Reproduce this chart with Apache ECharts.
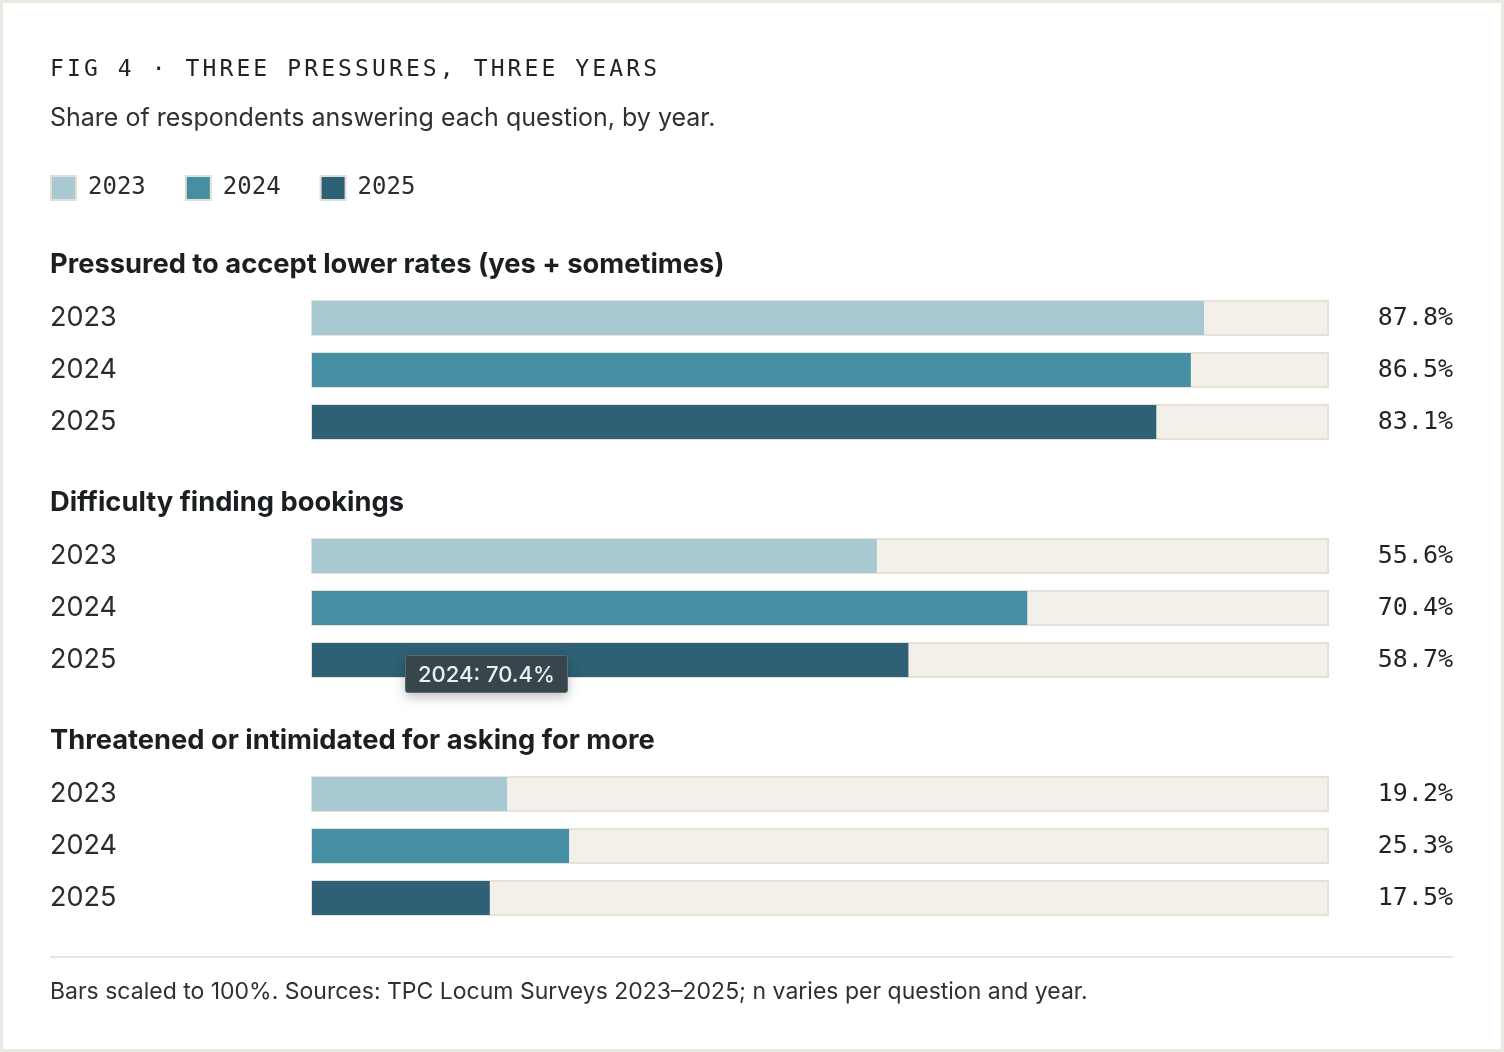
<!DOCTYPE html>
<html>
<head>
<meta charset="utf-8">
<script src="https://cdn.jsdelivr.net/npm/echarts@6/dist/echarts.min.js"></script>
<style>
  html, body { margin: 0; padding: 0; background: #ffffff; }
  #main { position: absolute; left: 0; top: 0; width: 1504px; height: 1052px; }
  #fig-title {
    position: absolute; left: 50px; top: 56px; margin: 0;
    font-family: "DejaVu Sans Mono", "Liberation Mono", monospace;
    font-size: 23px; line-height: 24px; letter-spacing: 3.1px;
    color: #1f2326; font-weight: normal; white-space: nowrap; z-index: 2;
  }
</style>
</head>
<body>
<div id="main"></div>
<h1 id="fig-title">FIG 4 · THREE PRESSURES, THREE YEARS</h1>
<script>
// 数据
const years = ['2023', '2024', '2025'];
const questions = [
  'Pressured to accept lower rates (yes + sometimes)',
  'Difficulty finding bookings',
  'Threatened or intimidated for asking for more'
];
const pressuredRates = [87.8, 86.5, 83.1];
const bookingDifficulty = [55.6, 70.4, 58.7];
const threatened = [19.2, 25.3, 17.5];
const groupValues = [pressuredRates, bookingDifficulty, threatened];

const subtitle = 'Share of respondents answering each question, by year.';
const footnote = 'Bars scaled to 100%. Sources: TPC Locum Surveys 2023\u20132025; n varies per question and year.';

const yearColors = ['#a7c9d2', '#468ea3', '#2e6176'];
const SANS = 'Inter, "Noto Sans", sans-serif';
const MONO = '"DejaVu Sans Mono", "Liberation Mono", monospace';

const chartDom = document.getElementById('main');
const myChart = echarts.init(chartDom);

// 每组问题一个 grid
const gridTops = [292, 530, 768];
const headingY = [264, 502, 740];
const grids = [];
const xAxes = [];
const yAxes = [];
const series = [];
const graphics = [
  { type: 'rect', z: -10, shape: { x: 1.5, y: 1.5, width: 1501, height: 1049 },
    style: { fill: '#ffffff', stroke: '#ebe8df', lineWidth: 3 } },
  { type: 'text', left: 50, top: 106,
    style: { text: subtitle, fill: '#2e3133', font: '25px ' + SANS } },
  { type: 'line', shape: { x1: 50, y1: 957, x2: 1453, y2: 957 },
    style: { stroke: '#e8e5dc', lineWidth: 2 } },
  { type: 'text', left: 50, top: 981,
    style: { text: footnote, fill: '#2e3133', font: '23px ' + SANS } }
];

groupValues.forEach((vals, g) => {
  grids.push({ left: 312, width: 1016, top: gridTops[g], height: 156 });
  xAxes.push({ type: 'value', gridIndex: g, min: 0, max: 100, show: false });
  yAxes.push({
    type: 'category', gridIndex: g, data: years, inverse: true,
    axisLine: { show: false }, axisTick: { show: false }, splitLine: { show: false },
    axisLabel: { margin: 262, align: 'left', fontFamily: SANS, fontSize: 27, color: '#2a2d30',
      padding: [6, 0, 0, 0] }
  });
  yAxes.push({
    type: 'category', gridIndex: g, position: 'right', inverse: true,
    data: vals.map(v => v.toFixed(1) + '%'),
    axisLine: { show: false }, axisTick: { show: false }, splitLine: { show: false },
    axisLabel: { margin: 125, align: 'right', fontFamily: MONO, fontSize: 25, color: '#1f2326',
      padding: [5, 0, 0, 0] }
  });
  series.push({
    name: questions[g],
    type: 'bar',
    xAxisIndex: g,
    yAxisIndex: g * 2,
    barWidth: 34,
    showBackground: true,
    backgroundStyle: { color: '#f3f0ea', borderColor: '#e6e2d8', borderWidth: 2 },
    emphasis: { disabled: true },
    data: vals.map((v, i) => ({ name: years[i], value: v, itemStyle: { color: yearColors[i] } }))
  });
  graphics.push({
    type: 'text', left: 50, top: headingY[g] - 13,
    style: { text: questions[g], fill: '#1c1f22', font: 'bold 27.3px ' + SANS }
  });
});

// 图例用的空系列
grids.push({ left: -50, top: -50, width: 1, height: 1 });
xAxes.push({ type: 'value', gridIndex: 3, show: false });
yAxes.push({ type: 'category', gridIndex: 3, show: false, data: [] });
years.forEach((y, i) => {
  series.push({ name: y, type: 'bar', xAxisIndex: 3, yAxisIndex: 6, data: [],
    itemStyle: { color: yearColors[i] } });
});

const option = {
  animation: false,
  backgroundColor: 'transparent',
  grid: grids,
  xAxis: xAxes,
  yAxis: yAxes,
  legend: {
    data: years, left: 50, top: 175, padding: 0, icon: 'rect',
    itemWidth: 25, itemHeight: 24, itemGap: 39, selectedMode: false,
    itemStyle: { borderColor: '#e2dfd5', borderWidth: 2 },
    textStyle: { fontFamily: MONO, fontSize: 24, color: '#2a2d30', padding: [5, 0, 0, 7] }
  },
  tooltip: {
    trigger: 'item',
    alwaysShowContent: true,
    transitionDuration: 0,
    position: [405, 655],
    backgroundColor: '#37464d',
    borderColor: '#5d6b71',
    borderWidth: 1,
    padding: [4, 12],
    textStyle: { color: '#eef1f2', fontFamily: SANS, fontSize: 22, fontWeight: 500, lineHeight: 28 },
    extraCssText: 'border-radius:3px; line-height:28px; box-shadow: 0 4px 12px rgba(0,0,0,0.25);',
    formatter: p => p.name + ': ' + p.value.toFixed(1) + '%'
  },
  graphic: graphics,
  series: series
};

option && myChart.setOption(option);
myChart.dispatchAction({ type: 'showTip', seriesIndex: 1, dataIndex: 1 });
</script>
</body>
</html>
